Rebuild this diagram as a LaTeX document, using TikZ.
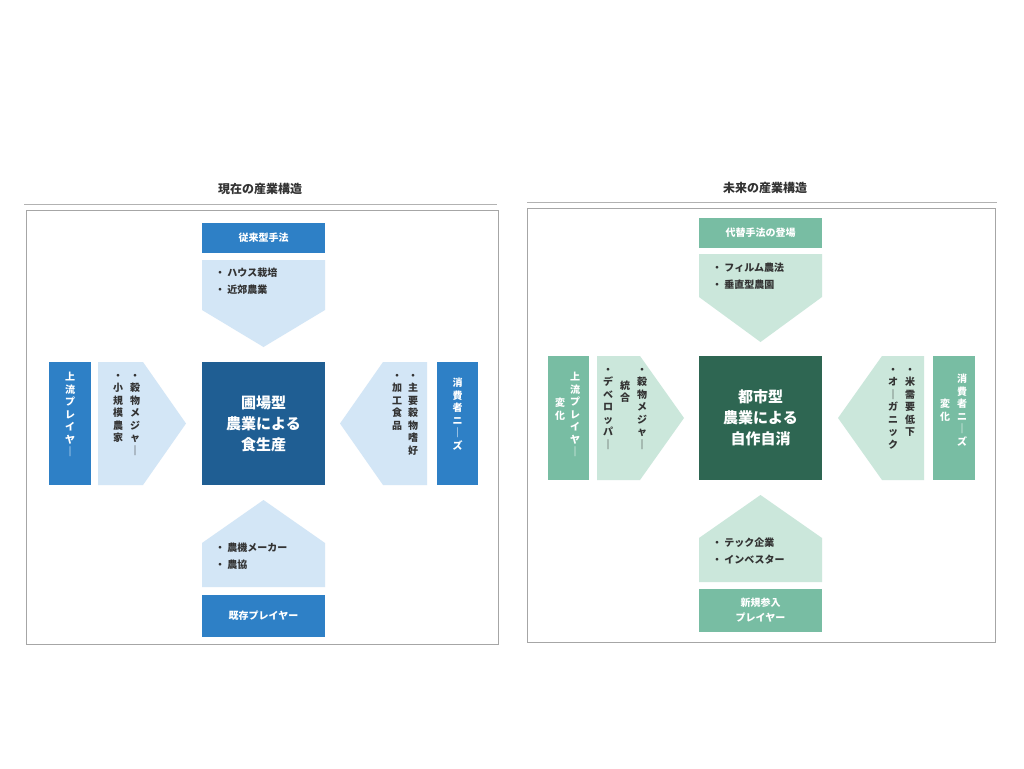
\documentclass[tikz,border=0pt]{standalone}
\usepackage{fontspec}
\setmainfont{Noto Sans CJK JP}
\definecolor{bmid}{HTML}{2E80C6}
\definecolor{blight}{HTML}{D3E6F6}
\definecolor{bdark}{HTML}{1F5E93}
\definecolor{gmid}{HTML}{78BDA3}
\definecolor{glight}{HTML}{CBE7DB}
\definecolor{gdark}{HTML}{2E6652}
\definecolor{tx}{HTML}{333333}
\begin{document}
\begin{tikzpicture}[x=1pt,y=-1pt,
  col/.style={font=\bfseries\fontsize{10}{12.5}\selectfont,text=tx,align=center,inner sep=0,anchor=north},
  wcol/.style={col,text=white},
  ltxt/.style={font=\bfseries\fontsize{10}{17}\selectfont,text=tx,align=left,inner sep=0,anchor=north west},
  lab/.style={font=\bfseries\fontsize{10}{15}\selectfont,text=white,align=center,inner sep=0},
  ctr/.style={font=\bfseries\fontsize{15}{21}\selectfont,text=white,align=center,inner sep=0},
  ttl/.style={font=\bfseries\fontsize{12}{14}\selectfont,text=tx,inner sep=0}]
\useasboundingbox (0,0) rectangle (1024,768);
\fill[white] (0,0) rectangle (1024,768);
% ---------- left panel ----------
\node[ttl] (t1) at (260,189) {現在の産業構造};
\draw[gray!60,line width=1pt] (24,204) -- (497,204);
\draw[gray!70,line width=0.8pt] (26,210) rectangle (498,644);
\fill[bmid] (202,223) rectangle (325,253);
\node[lab] (l1top) at (263.5,238) {従来型手法};
\fill[blight] (202,260) -- (325,260) -- (325,310) -- (263.5,347) -- (202,310) -- cycle;
\node[ltxt] (a1top) at (215,268) {・ ハウス栽培\\・ 近郊農業};
\fill[bdark] (202,362) rectangle (325,485);
\node[ctr] (c1) at (263.5,423.5) {圃場型\\農業による\\食生産};
\fill[bmid] (49,362) rectangle (91,485);
\node[wcol] (l1left) at (70,372) {上\\流\\プ\\レ\\イ\\ヤ\\｜};
\fill[blight] (98,362) -- (143,362) -- (186,423.5) -- (143,485) -- (98,485) -- cycle;
\node[col] (a1la) at (135,374) {・\\穀\\物\\メ\\ジ\\ャ\\｜};
\node[col] (a1lb) at (118,374) {・\\小\\規\\模\\農\\家};
\fill[blight] (427,362) -- (383,362) -- (340,423.5) -- (383,485) -- (427,485) -- cycle;
\node[col] (a1ra) at (413,374) {・\\主\\要\\穀\\物\\嗜\\好};
\node[col] (a1rb) at (397,374) {・\\加\\工\\食\\品};
\fill[bmid] (437,362) rectangle (478,485);
\node[wcol] (l1right) at (457.5,378) {消\\費\\者\\ニ\\｜\\ズ};
\fill[blight] (202,587) -- (202,543) -- (263.5,500) -- (325,543) -- (325,587) -- cycle;
\node[ltxt] (a1bot) at (215,543) {・ 農機メーカー\\・ 農協};
\fill[bmid] (202,595) rectangle (325,637);
\node[lab] (l1bot) at (263.5,616) {既存プレイヤー};
% ---------- right panel ----------
\node[ttl] (t2) at (765,188) {未来の産業構造};
\draw[gray!60,line width=1pt] (527,202) -- (997,202);
\draw[gray!70,line width=0.8pt] (527,208) rectangle (995,642);
\fill[gmid] (699,218) rectangle (822,248);
\node[lab] (l2top) at (760.5,233) {代替手法の登場};
\fill[glight] (699,254) -- (822,254) -- (822,297) -- (760.5,342) -- (699,297) -- cycle;
\node[ltxt] (a2top) at (712,263) {・ フィルム農法\\・ 垂直型農園};
\fill[gdark] (699,356) rectangle (822,480);
\node[ctr] (c2) at (760.5,418) {都市型\\農業による\\自作自消};
\fill[gmid] (548,356) rectangle (589,480);
\node[wcol] (l2lefta) at (575,372) {上\\流\\プ\\レ\\イ\\ヤ\\｜};
\node[wcol] (l2leftb) at (560,398) {変\\化};
\fill[glight] (597,356) -- (640,356) -- (684,418) -- (640,480) -- (597,480) -- cycle;
\node[col] (a2la) at (642,368) {・\\穀\\物\\メ\\ジ\\ャ\\｜};
\node[col] (a2lb) at (625,380.5) {統\\合};
\node[col] (a2lc) at (608,368) {・\\デ\\ベ\\ロ\\ッ\\パ\\｜};
\fill[glight] (924,356) -- (882,356) -- (838,418) -- (882,480) -- (924,480) -- cycle;
\node[col] (a2ra) at (910,368) {・\\米\\需\\要\\低\\下};
\node[col] (a2rb) at (893,368) {・\\オ\\｜\\ガ\\ニ\\ッ\\ク};
\fill[gmid] (933,356) rectangle (975,480);
\node[wcol] (l2righta) at (962,374) {消\\費\\者\\ニ\\｜\\ズ};
\node[wcol] (l2rightb) at (945,399) {変\\化};
\fill[glight] (699,582) -- (699,538) -- (760.5,495) -- (822,538) -- (822,582) -- cycle;
\node[ltxt] (a2bot) at (712,538) {・ テック企業\\・ インベスター};
\fill[gmid] (699,589) rectangle (822,632);
\node[lab] (l2bot) at (760.5,610.5) {新規参入\\プレイヤー};
\end{tikzpicture}
\end{document}
